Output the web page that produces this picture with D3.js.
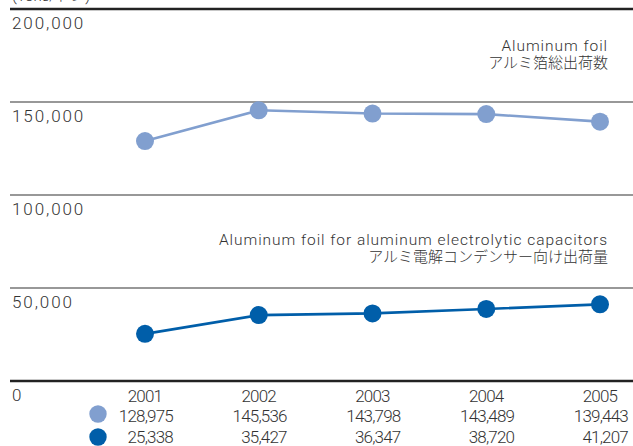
<!DOCTYPE html>
<html><head><meta charset="utf-8">
<script src="https://cdn.jsdelivr.net/npm/d3@7"></script>
<style>
html,body{margin:0;padding:0;background:#fff;overflow:hidden}
text{font-family:Roboto,"Noto Sans CJK JP",sans-serif;font-weight:300;fill:#333}
</style></head><body>
<svg id="c" width="633" height="446"></svg>
<script>
const years = ["2001","2002","2003","2004","2005"];
const foilTotal = [128975,145536,143798,143489,139443];
const foilCapacitor = [25338,35427,36347,38720,41207];
const yTicks = [0,50000,100000,150000,200000];
const unitLabel = "(Tons/トン)";
const seriesLabels = [
  ["Aluminum foil","アルミ箔総出荷数"],
  ["Aluminum foil for aluminum electrolytic capacitors","アルミ電解コンデンサー向け出荷量"]
];
const colors = ["#819fcf","#005ea9"];

const svg = d3.select("#c");
const y = d3.scaleLinear().domain([0,200000]).range([381,9]);
const x = d3.scalePoint().domain(years).range([145,600]);
const fmt = d3.format(",");

svg.append("text").attr("x",12).attr("y",0.5).style("font-size","15px").text(unitLabel);

yTicks.forEach(t=>{
  const edge = (t===0||t===200000);
  svg.append("line").attr("x1",10).attr("x2",633).attr("y1",y(t)).attr("y2",y(t))
    .attr("stroke",edge?"#222":"#333").attr("stroke-width",edge?2.6:1.1);
  svg.append("text").attr("x",12).attr("y",y(t)+20).style("font-size","17px")
    .style("letter-spacing","1.9px").text(t===0?"0":fmt(t));
});

[foilTotal,foilCapacitor].forEach((vals,i)=>{
  const line = d3.line().x((d,j)=>x(years[j])).y(d=>y(d));
  svg.append("path").attr("d",line(vals)).attr("fill","none")
    .attr("stroke",colors[i]).attr("stroke-width",2.6);
  svg.selectAll(null).data(vals).enter().append("circle")
    .attr("cx",(d,j)=>x(years[j])).attr("cy",d=>y(d)).attr("r",9).attr("fill",colors[i]);
});

// series labels
const lblY = [[51,68],[245,262]];
seriesLabels.forEach((ls,i)=>{
  ls.forEach((s,k)=>{
    svg.append("text").attr("x",608).attr("y",lblY[i][k]).attr("text-anchor","end")
      .style("font-size",k===0?"15.5px":"15px")
      .style("letter-spacing",k===0?"0.95px":"0px").text(s);
  });
});

// data table
years.forEach((yr,j)=>{
  svg.append("text").attr("x",x(yr)).attr("y",402).attr("text-anchor","middle")
    .style("font-size","17px").style("letter-spacing","-0.8px").text(yr);
  svg.append("text").attr("x",x(yr)+28).attr("y",422).attr("text-anchor","end")
    .style("font-size","17px").style("letter-spacing","-0.8px").text(fmt(foilTotal[j]));
  svg.append("text").attr("x",x(yr)+28).attr("y",443).attr("text-anchor","end")
    .style("font-size","17px").style("letter-spacing","-0.8px").text(fmt(foilCapacitor[j]));
});
colors.forEach((c,i)=>{
  svg.append("circle").attr("cx",98).attr("cy",i===0?414:437).attr("r",8.7).attr("fill",c);
});
</script></body></html>
